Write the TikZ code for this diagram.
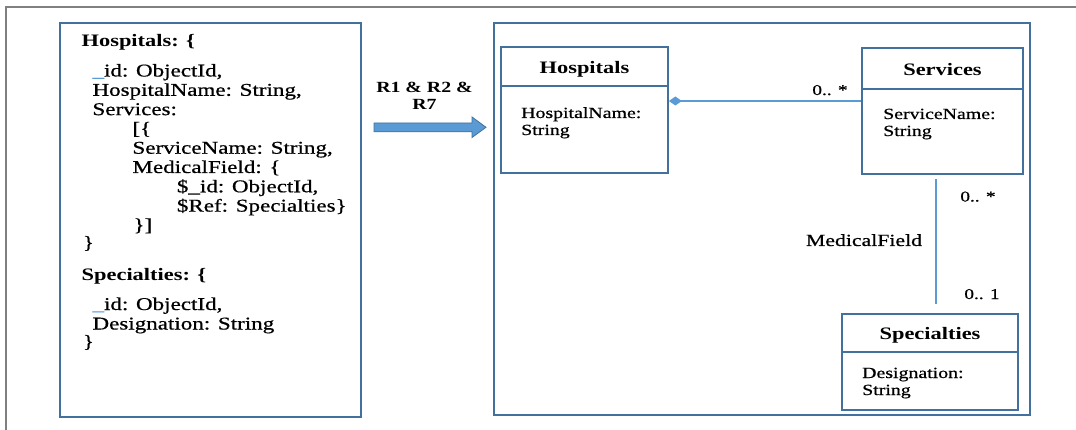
\documentclass[tikz,border=0pt]{standalone}
\usepackage{graphicx}
\usepackage{fontspec}
\setmainfont{Liberation Serif}[UprightFeatures={FakeBold=0.6}]
\usetikzlibrary{arrows.meta}
\definecolor{boxblue}{HTML}{41719C}
\definecolor{lineblue}{HTML}{5B9BD5}
\definecolor{framegray}{HTML}{808080}
% horizontally widened lettering
\newcommand{\widetxt}[1]{\scalebox{1.28}[1]{#1}}

\begin{document}
\begin{tikzpicture}[x=1pt,y=-1pt,
  panel/.style={draw=boxblue, line width=1.8pt, rectangle, inner sep=0pt},
  classbody/.style={draw=boxblue, line width=1.8pt, rectangle, inner sep=0pt},
  classhead/.style={draw=boxblue, line width=2.6pt, rectangle, inner sep=0pt,
    text height=13.5pt, text depth=0pt, font=\fontsize{17.5}{20}\selectfont\bfseries},
  code/.style={anchor=base west, inner sep=0pt, font=\fontsize{18}{19}\selectfont},
  codehead/.style={anchor=base west, inner sep=0pt, font=\fontsize{17.5}{19}\selectfont\bfseries},
  attr/.style={anchor=base west, inner sep=0pt, font=\fontsize{15.5}{17}\selectfont},
  mult/.style={anchor=base, inner sep=0pt, font=\fontsize{15}{17}\selectfont},
  rolelabel/.style={anchor=base, inner sep=0pt, font=\fontsize{17}{19}\selectfont},
  rulelabel/.style={anchor=base, inner sep=0pt, font=\fontsize{15.5}{17}\selectfont\bfseries},
  assoc/.style={draw=lineblue, line width=1.2pt},
  blockarrow/.style={fill=lineblue, draw=boxblue, line width=0.8pt, line join=miter}
]
\useasboundingbox (0,0) rectangle (1076,430);

% page frame (top and left edges only)
\draw[framegray, line width=1.5pt] (1076,7) -- (6,7) -- (6,430);

% document schema panel and class model panel
\node[panel, minimum width=301pt, minimum height=394pt] (json) at (210.5,220) {};
\node[panel, minimum width=536pt, minimum height=392pt] (model) at (762,219) {};

% document schema listing
\node[codehead] (c1)  at (81.5,46.5)   {\widetxt{Hospitals: \{}};
\node[code]     (c2)  at (92.3,76.5)   {\widetxt{\textcolor{lineblue}{\_}id: ObjectId,}};
\node[code]     (c3)  at (92.3,95.8)   {\widetxt{HospitalName: String,}};
\node[code]     (c4)  at (92.3,115.1)  {\widetxt{Services:}};
\node[code]     (c5)  at (132.3,134.4) {\widetxt{[\{}};
\node[code]     (c6)  at (132.3,153.7) {\widetxt{ServiceName: String,}};
\node[code]     (c7)  at (132.3,173)   {\widetxt{MedicalField: \{}};
\node[code]     (c8)  at (176.7,192.3) {\widetxt{\$\_id: ObjectId,}};
\node[code]     (c9)  at (176.7,211.6) {\widetxt{\$Ref: Specialties\}}};
\node[code]     (c10) at (133.3,230.9) {\widetxt{\}]}};
\node[code]     (c11) at (82.7,248.5)  {\widetxt{\}}};
\node[codehead] (c12) at (81.5,280)    {\widetxt{Specialties: \{}};
\node[code]     (c13) at (92.3,310)    {\widetxt{\textcolor{lineblue}{\_}id: ObjectId,}};
\node[code]     (c14) at (92.3,329.5)  {\widetxt{Designation: String}};
\node[code]     (c15) at (82.7,347.5)  {\widetxt{\}}};

% transformation arrow
\node[rulelabel] (r1) at (424.5,93)    {\widetxt{R1 \& R2 \&}};
\node[rulelabel] (r2) at (424.5,109.5) {\widetxt{R7}};
\fill[blockarrow] (374,123) -- (472,123) -- (472,117) -- (486,127.3)
  -- (472,137.5) -- (472,131.8) -- (374,131.8) -- cycle;

% class Hospitals
\node[classbody, minimum width=167pt, minimum height=87pt] (hosB) at (584.5,129.5) {};
\node[classhead, minimum width=167pt, minimum height=39pt] (hosH) at (584.5,66.5) {\widetxt{Hospitals}};
\node[attr] (hosA1) at (521,118) {\widetxt{HospitalName:}};
\node[attr] (hosA2) at (521,135) {\widetxt{String}};

% class Services
\node[classbody, minimum width=161pt, minimum height=85pt] (srvB) at (942.5,131.5) {};
\node[classhead, minimum width=161pt, minimum height=41pt] (srvH) at (942.5,68.5) {\widetxt{Services}};
\node[attr] (srvA1) at (883,119) {\widetxt{ServiceName:}};
\node[attr] (srvA2) at (883,136) {\widetxt{String}};

% class Specialties
\node[classbody, minimum width=176pt, minimum height=58pt] (spB) at (930,381) {};
\node[classhead, minimum width=176pt, minimum height=38pt] (spH) at (930,333) {\widetxt{Specialties}};
\node[attr] (spA1) at (862,378) {\widetxt{Designation:}};
\node[attr] (spA2) at (862,395) {\widetxt{String}};

% composition Hospitals <>-- Services
\draw[assoc, {Diamond[length=13pt,width=9pt,fill=lineblue]}-]
  ([yshift=28.5pt]hosB.east) -- ([yshift=30.5pt]srvB.west);
\node[mult] (m1) at (830,95) {\widetxt{0.. *}};

% association Services -- Specialties
\draw[assoc] ([xshift=-6.5pt,yshift=-4pt]srvB.south) -- ([xshift=6pt,yshift=9pt]spH.north);
\node[mult] (m2) at (978,201.5) {\widetxt{0.. *}};
\node[mult] (m3) at (982,299)   {\widetxt{0.. 1}};
\node[rolelabel] (role) at (864,246) {\widetxt{MedicalField}};
\end{tikzpicture}
\end{document}
